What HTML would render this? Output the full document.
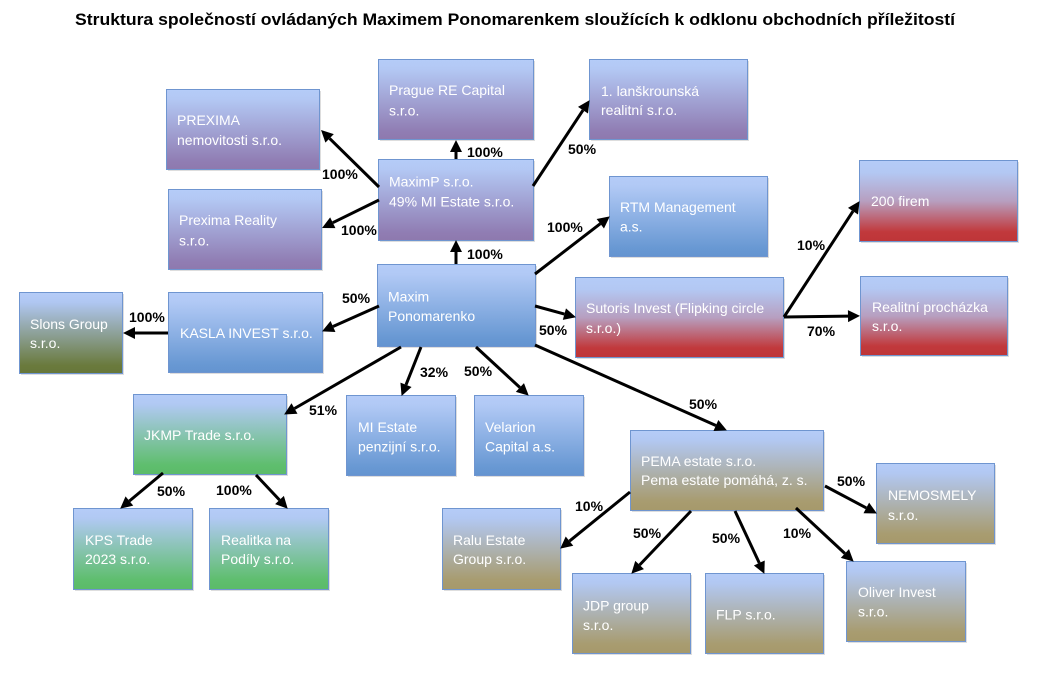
<!DOCTYPE html>
<html><head><meta charset="utf-8"><style>
html,body{margin:0;padding:0;background:#fff;}
svg{display:block;}
.t{font-family:"Liberation Sans",sans-serif;font-size:14px;fill:#fff;}
.p{font-family:"Liberation Sans",sans-serif;font-size:14px;font-weight:bold;fill:#000;}
.b{stroke:#6f95d0;stroke-width:1;}
.s{fill:#000;opacity:.13;}
.l{stroke:#000;stroke-width:3;fill:none;marker-end:url(#ah);}
</style></head><body>
<svg width="1040" height="676" viewBox="0 0 1040 676" xmlns="http://www.w3.org/2000/svg">
<defs>
<marker id="ah" markerUnits="userSpaceOnUse" markerWidth="12" markerHeight="12" refX="0" refY="6" orient="auto" overflow="visible"><path d="M0,0 L12,6 L0,12 z" fill="#000"/></marker>
<linearGradient id="gP" x1="0" y1="0" x2="0" y2="1"><stop offset="0" stop-color="#b5ccf8"/><stop offset=".12" stop-color="#b3c8f4"/><stop offset=".9" stop-color="#907db3"/><stop offset="1" stop-color="#8e79ae"/></linearGradient>
<linearGradient id="gB" x1="0" y1="0" x2="0" y2="1"><stop offset="0" stop-color="#b5ccf8"/><stop offset=".12" stop-color="#b1c9f5"/><stop offset=".9" stop-color="#6898d3"/><stop offset="1" stop-color="#6494d0"/></linearGradient>
<linearGradient id="gR" x1="0" y1="0" x2="0" y2="1"><stop offset="0" stop-color="#b5ccf8"/><stop offset=".15" stop-color="#b3c8f3"/><stop offset=".5" stop-color="#b79fc0"/><stop offset=".88" stop-color="#c1393c"/><stop offset="1" stop-color="#be3538"/></linearGradient>
<linearGradient id="gG" x1="0" y1="0" x2="0" y2="1"><stop offset="0" stop-color="#b5ccf8"/><stop offset=".12" stop-color="#b1c9f3"/><stop offset=".88" stop-color="#5fbe6e"/><stop offset="1" stop-color="#5bbb69"/></linearGradient>
<linearGradient id="gT" x1="0" y1="0" x2="0" y2="1"><stop offset="0" stop-color="#b5ccf8"/><stop offset=".12" stop-color="#b2c8f2"/><stop offset=".88" stop-color="#a89c70"/><stop offset="1" stop-color="#a6996b"/></linearGradient>
<linearGradient id="gO" x1="0" y1="0" x2="0" y2="1"><stop offset="0" stop-color="#b5ccf8"/><stop offset=".12" stop-color="#b0c7f2"/><stop offset=".9" stop-color="#6a7a3d"/><stop offset="1" stop-color="#67773a"/></linearGradient>
</defs>
<rect width="1040" height="676" fill="#fff"/>
<text x="75" y="25" font-family="Liberation Sans, sans-serif" font-weight="bold" font-size="17" fill="#000" textLength="880" lengthAdjust="spacingAndGlyphs">Struktura společností ovládaných Maximem Ponomarenkem sloužících k odklonu obchodních příležitostí</text>

<!-- shadows -->
<g class="s">
<rect x="380" y="61" width="155" height="80"/><rect x="168" y="91" width="153" height="80"/><rect x="591" y="61" width="158" height="80"/>
<rect x="380" y="161" width="155" height="81"/><rect x="170" y="191" width="153" height="80"/><rect x="611" y="178" width="158" height="80"/>
<rect x="861" y="162" width="158" height="81"/><rect x="379" y="266" width="158" height="82"/><rect x="577" y="279" width="208" height="80"/>
<rect x="862" y="278" width="147" height="79"/><rect x="170" y="294" width="154" height="80"/><rect x="21" y="294" width="103" height="81"/>
<rect x="135" y="396" width="153" height="80"/><rect x="348" y="397" width="109" height="80"/><rect x="476" y="397" width="109" height="80"/>
<rect x="632" y="432" width="193" height="80"/><rect x="878" y="465" width="118" height="80"/><rect x="75" y="510" width="119" height="81"/>
<rect x="211" y="510" width="119" height="81"/><rect x="444" y="510" width="118" height="81"/><rect x="574" y="575" width="118" height="80"/>
<rect x="707" y="575" width="118" height="80"/><rect x="848" y="563" width="119" height="80"/>
</g>

<!-- boxes -->
<rect class="b" x="378.5" y="59.5" width="155" height="80" fill="url(#gP)"/>
<rect class="b" x="166.5" y="89.5" width="153" height="80" fill="url(#gP)"/>
<rect class="b" x="589.5" y="59.5" width="158" height="80" fill="url(#gP)"/>
<rect class="b" x="378.5" y="159.5" width="155" height="81" fill="url(#gP)"/>
<rect class="b" x="168.5" y="189.5" width="153" height="80" fill="url(#gP)"/>
<rect class="b" x="609.5" y="176.5" width="158" height="80" fill="url(#gB)"/>
<rect class="b" x="859.5" y="160.5" width="158" height="81" fill="url(#gR)"/>
<rect class="b" x="377.5" y="264.5" width="158" height="82" fill="url(#gB)"/>
<rect class="b" x="575.5" y="277.5" width="208" height="80" fill="url(#gR)"/>
<rect class="b" x="860.5" y="276.5" width="147" height="79" fill="url(#gR)"/>
<rect class="b" x="168.5" y="292.5" width="154" height="80" fill="url(#gB)"/>
<rect class="b" x="19.5" y="292.5" width="103" height="81" fill="url(#gO)"/>
<rect class="b" x="133.5" y="394.5" width="153" height="80" fill="url(#gG)"/>
<rect class="b" x="346.5" y="395.5" width="109" height="80" fill="url(#gB)"/>
<rect class="b" x="474.5" y="395.5" width="109" height="80" fill="url(#gB)"/>
<rect class="b" x="630.5" y="430.5" width="193" height="80" fill="url(#gT)"/>
<rect class="b" x="876.5" y="463.5" width="118" height="80" fill="url(#gT)"/>
<rect class="b" x="73.5" y="508.5" width="119" height="81" fill="url(#gG)"/>
<rect class="b" x="209.5" y="508.5" width="119" height="81" fill="url(#gG)"/>
<rect class="b" x="442.5" y="508.5" width="118" height="81" fill="url(#gT)"/>
<rect class="b" x="572.5" y="573.5" width="118" height="80" fill="url(#gT)"/>
<rect class="b" x="705.5" y="573.5" width="118" height="80" fill="url(#gT)"/>
<rect class="b" x="846.5" y="561.5" width="119" height="80" fill="url(#gT)"/>

<!-- box text -->
<g class="t">
<text x="389" y="95">Prague RE Capital</text><text x="389" y="115.5">s.r.o.</text>
<text x="177" y="125">PREXIMA</text><text x="177" y="145">nemovitosti s.r.o.</text>
<text x="601" y="96">1. lanškrounská</text><text x="601" y="115">realitní s.r.o.</text>
<text x="389" y="186.5">MaximP s.r.o.</text><text x="389" y="206.5">49% MI Estate s.r.o.</text>
<text x="179" y="225">Prexima Reality</text><text x="179" y="245.5">s.r.o.</text>
<text x="620" y="212">RTM Management</text><text x="620" y="231.5">a.s.</text>
<text x="871" y="206">200 firem</text>
<text x="388" y="301.5">Maxim</text><text x="388" y="321">Ponomarenko</text>
<text x="586" y="313">Sutoris Invest (Flipking circle</text><text x="586" y="333">s.r.o.)</text>
<text x="872" y="312">Realitní procházka</text><text x="872" y="331">s.r.o.</text>
<text x="180" y="338">KASLA INVEST s.r.o.</text>
<text x="30" y="329">Slons Group</text><text x="30" y="348">s.r.o.</text>
<text x="144" y="440">JKMP Trade s.r.o.</text>
<text x="358" y="432">MI Estate</text><text x="358" y="451.5">penzijní s.r.o.</text>
<text x="485" y="432">Velarion</text><text x="485" y="451.5">Capital a.s.</text>
<text x="641" y="466">PEMA estate s.r.o.</text><text x="641" y="485">Pema estate pomáhá, z. s.</text>
<text x="888" y="500">NEMOSMELY</text><text x="888" y="520">s.r.o.</text>
<text x="85" y="545">KPS Trade</text><text x="85" y="564">2023 s.r.o.</text>
<text x="221" y="545">Realitka na</text><text x="221" y="564">Podíly s.r.o.</text>
<text x="453" y="545">Ralu Estate</text><text x="453" y="564">Group s.r.o.</text>
<text x="583" y="610.5">JDP group</text><text x="583" y="630">s.r.o.</text>
<text x="716" y="619.5">FLP s.r.o.</text>
<text x="858" y="597">Oliver Invest</text><text x="858" y="616.5">s.r.o.</text>
</g>

<!-- connectors -->
<g>
<line class="l" x1="379" y1="187" x2="329.6" y2="138.4"/>
<line class="l" x1="379" y1="200" x2="332.8" y2="222.7"/>
<line class="l" x1="456" y1="159" x2="456" y2="152"/>
<line class="l" x1="456" y1="264" x2="456" y2="252"/>
<line class="l" x1="379" y1="306" x2="333" y2="326.5"/>
<line class="l" x1="168" y1="333" x2="135" y2="333"/>
<line class="l" x1="533" y1="186" x2="583" y2="110.2"/>
<line class="l" x1="535" y1="274" x2="600.3" y2="223.7"/>
<line class="l" x1="535" y1="306" x2="564.4" y2="314.1"/>
<line class="l" x1="784" y1="317" x2="853" y2="211.2"/>
<line class="l" x1="784" y1="317" x2="848" y2="316.1"/>
<line class="l" x1="535" y1="345" x2="715.9" y2="425.5"/>
<line class="l" x1="401" y1="347" x2="294.5" y2="408.5"/>
<line class="l" x1="421" y1="347" x2="406" y2="384.8"/>
<line class="l" x1="476" y1="347" x2="519.9" y2="387.5"/>
<line class="l" x1="163" y1="473" x2="129.4" y2="501"/>
<line class="l" x1="256" y1="475" x2="279.5" y2="500"/>
<line class="l" x1="630" y1="492" x2="569.5" y2="541.1"/>
<line class="l" x1="691" y1="511" x2="639.6" y2="565"/>
<line class="l" x1="735" y1="511" x2="759.3" y2="563"/>
<line class="l" x1="796" y1="508" x2="844.9" y2="553.5"/>
<line class="l" x1="825" y1="486" x2="866.3" y2="507.9"/>
</g>

<!-- labels -->
<g class="p">
<text x="322" y="179">100%</text>
<text x="341" y="235">100%</text>
<text x="467" y="157">100%</text>
<text x="467" y="259">100%</text>
<text x="342" y="303">50%</text>
<text x="129" y="322">100%</text>
<text x="568" y="154">50%</text>
<text x="547" y="232">100%</text>
<text x="539" y="335">50%</text>
<text x="797" y="250">10%</text>
<text x="807" y="336">70%</text>
<text x="689" y="409">50%</text>
<text x="309" y="415">51%</text>
<text x="420" y="377">32%</text>
<text x="464" y="376">50%</text>
<text x="157" y="496">50%</text>
<text x="216" y="495">100%</text>
<text x="575" y="511">10%</text>
<text x="633" y="538">50%</text>
<text x="712" y="543">50%</text>
<text x="783" y="538">10%</text>
<text x="837" y="486">50%</text>
</g>
</svg>
</body></html>
